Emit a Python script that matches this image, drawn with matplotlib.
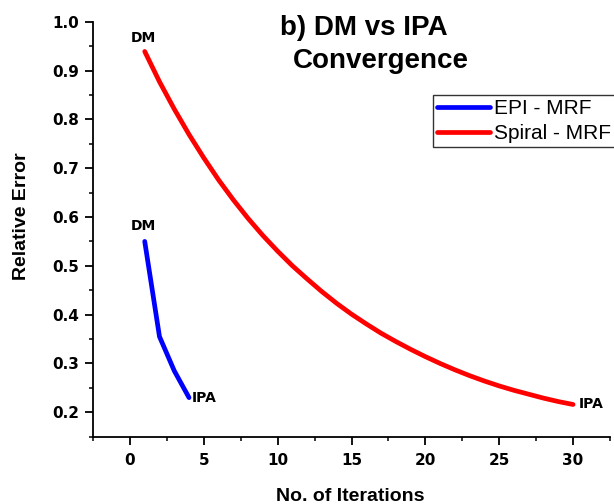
import matplotlib
matplotlib.use("Agg")
import matplotlib.pyplot as plt
from matplotlib.ticker import MultipleLocator

plt.rcParams["font.family"] = ["Liberation Sans", "DejaVu Sans"]

# EPI - MRF convergence
epi_iter = [1, 2, 3, 4]
epi_err = [0.55, 0.355, 0.285, 0.23]

# Spiral - MRF convergence
spiral_iter = list(range(1, 31))
spiral_err = [0.939, 0.877, 0.821, 0.769, 0.721, 0.676, 0.635, 0.597, 0.562, 0.530,
              0.500, 0.473, 0.447, 0.423, 0.401, 0.381, 0.362, 0.345, 0.329, 0.314,
              0.300, 0.287, 0.275, 0.264, 0.254, 0.245, 0.237, 0.229, 0.222, 0.216]

fig = plt.figure(figsize=(6.14, 5.04), dpi=100)
ax = fig.add_axes([0.1515, 0.1335, 0.842, 0.8235])

ax.plot(epi_iter, epi_err, color="#0000ff", lw=3.4, label="EPI - MRF", solid_capstyle="round")
ax.plot(spiral_iter, spiral_err, color="#ff0000", lw=3.4, label="Spiral - MRF", solid_capstyle="round")

ax.set_xlim(-2.5, 32.5)
ax.set_ylim(0.15, 1.0)
ax.xaxis.set_minor_locator(MultipleLocator(2.5))
ax.yaxis.set_minor_locator(MultipleLocator(0.05))
ax.set_yticks([0.2, 0.3, 0.4, 0.5, 0.6, 0.7, 0.8, 0.9, 1.0])
ax.set_yticklabels(["0.2", "0.3", "0.4", "0.5", "0.6", "0.7", "0.8", "0.9", "1.0"])
ax.set_xticks([0, 5, 10, 15, 20, 25, 30])

ax.spines["top"].set_visible(False)
ax.spines["right"].set_visible(False)
for s in ("left", "bottom"):
    ax.spines[s].set_linewidth(1.3)
ax.tick_params(which="major", direction="out", length=6, width=1.3)
ax.tick_params(which="minor", direction="out", length=3, width=1.1)
ax.tick_params(axis="x", which="major", pad=6)
ax.tick_params(axis="y", which="major", pad=4)
for lab in ax.get_xticklabels() + ax.get_yticklabels():
    lab.set_fontfamily("DejaVu Sans")
    lab.set_fontweight("bold")
    lab.set_fontsize(11)

ax.set_xlabel("No. of Iterations", fontsize=14, fontweight="bold")
ax.set_ylabel("Relative Error", fontsize=14, fontweight="bold")
ax.xaxis.set_label_coords(0.497, -0.145)
ax.xaxis.label.set_va("center")
ax.yaxis.set_label_coords(-0.138, 0.532)
ax.yaxis.label.set_va("center")

# point labels
lbl = dict(textcoords="offset points", fontsize=10, fontweight="bold", family="DejaVu Sans")
ax.annotate("DM", (epi_iter[0], epi_err[0]), xytext=(-1, 8), ha="center", va="baseline", **lbl)
ax.annotate("DM", (spiral_iter[0], spiral_err[0]), xytext=(-1, 7), ha="center", va="baseline", **lbl)
ax.annotate("IPA", (epi_iter[-1], epi_err[-1]), xytext=(2, 0), ha="left", va="center", **lbl)
ax.annotate("IPA", (spiral_iter[-1], spiral_err[-1]), xytext=(4, 0), ha="left", va="center", **lbl)

fig.text(364 / 614, 1 - 35 / 504, "b) DM vs IPA", ha="center", va="baseline",
         fontsize=20, fontweight="bold")
fig.text(381 / 614, 1 - 68 / 504, "Convergence", ha="center", va="baseline",
         fontsize=20, fontweight="bold")

leg = ax.legend(loc="upper left", bbox_to_anchor=(433 / 614, 1 - 95 / 504),
                bbox_transform=fig.transFigure, fontsize=15,
                frameon=True, fancybox=False, edgecolor="black", handlelength=2.55,
                handletextpad=0.2, borderpad=0.2, labelspacing=0.28, borderaxespad=0)
leg.get_frame().set_linewidth(1.0)
for line in leg.get_lines():
    line.set_linewidth(3.4)

fig.savefig("out.png", dpi=100)
